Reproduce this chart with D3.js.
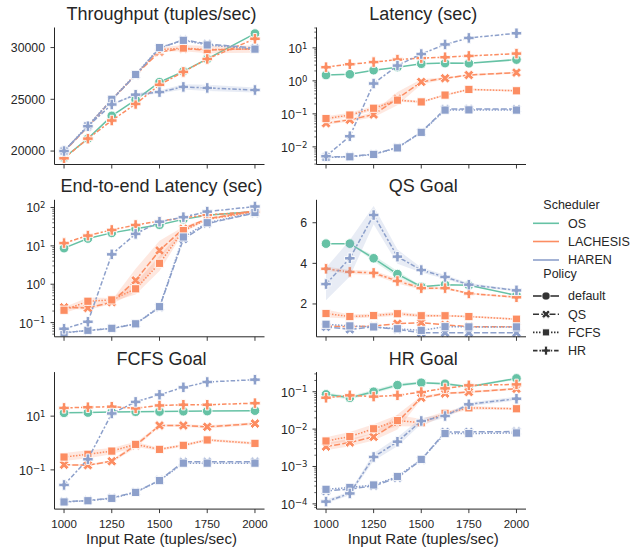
<!DOCTYPE html>
<html><head><meta charset="utf-8">
<script src="https://cdn.jsdelivr.net/npm/d3@7"></script>
<style>
body{margin:0;background:#fff}
text{font-family:"Liberation Sans",Arial,sans-serif;fill:#262626}
</style>
</head><body>
<svg id="c" width="644" height="552"></svg>
<script>
// ---------- data ----------
const inputRates = [1000,1125,1250,1375,1500,1625,1750,2000];
const xTickValues = [1000,1250,1500,1750,2000];
const schedulers = ["OS","LACHESIS","HAREN"];
const policies = ["default","QS","FCFS","HR"];
const panelTitles = ["Throughput (tuples/sec)","Latency (sec)","End-to-end Latency (sec)","QS Goal","FCFS Goal","HR Goal"];
const xAxisLabel = "Input Rate (tuples/sec)";

// Throughput
const thrOSDefault   = [19350,21200,23400,24950,26650,27700,28900,31350];
const thrLachQS      = [19950,22350,24950,27350,29600,29900,29750,29900];
const thrLachFCFS    = [20000,22400,25000,27400,29800,29950,29800,29850];
const thrLachHR      = [19300,21200,22950,24550,26400,27650,28900,30850];
const thrHarenQS     = [20000,22400,24950,27350,29950,30750,30350,29950];
const thrHarenFCFS   = [20000,22450,25000,27400,30000,30700,30250,29850];
const thrHarenHR     = [20000,22400,24500,25450,25700,26200,26100,25900];
const thrLachFCFSBand = [0,0,0,0,200,300,350,350];
const thrHarenHRBand  = [0,0,0,150,150,250,300,250];
const thrTicks = [20000,25000,30000];

// Latency
const latOSDefault   = [1.5,1.58,2.1,2.6,3.3,3.45,3.4,4.4];
const latLachQS      = [0.052,0.066,0.095,0.29,0.93,1.2,1.5,1.78];
const latLachFCFS    = [0.072,0.092,0.148,0.26,0.23,0.37,0.55,0.5];
const latLachHR      = [2.6,3.2,3.7,4.4,4.9,5.2,5.7,6.7];
const latHarenQS     = [0.0049,0.0051,0.006,0.0095,0.028,0.14,0.14,0.14];
const latHarenFCFS   = [0.0048,0.005,0.0059,0.0093,0.0275,0.13,0.132,0.13];
const latHarenHR     = [0.0052,0.021,0.83,2.9,6.5,12.7,20,27.7];
const latLachQSBand   = [0.05,0.05,0.08,0.2,0.08,0.03,0.03,0.03];
const latLachFCFSBand = [0.07,0.07,0.07,0.05,0.03,0.03,0.03,0.03];
const latTicks = [-2,-1,0,1];

// End-to-end latency
const e2eOSDefault   = [8.7,15.5,21.8,27.8,35.5,49,63,78];
const e2eLachQS      = [0.25,0.24,0.34,1.26,7.6,28,51,82];
const e2eLachFCFS    = [0.21,0.36,0.39,0.76,3.5,25,49,77];
const e2eLachHR      = [11.8,18.5,26,35,44,54,64,78];
const e2eHarenQS     = [0.055,0.062,0.07,0.092,0.25,15,38,72];
const e2eHarenFCFS   = [0.054,0.063,0.071,0.093,0.26,17,40,74];
const e2eHarenHR     = [0.069,0.105,6.0,20.5,42.6,56,78,106];
const e2eLachQSBand   = [0.03,0.05,0.05,0.3,0.25,0.05,0.02,0.02];
const e2eLachFCFSBand = [0.08,0.1,0.05,0.15,0.2,0.05,0.02,0.02];
const e2eTicks = [-1,0,1,2];

// QS goal
const qsOSDefault    = [4.97,4.97,4.25,3.47,2.85,2.95,2.92,2.42];
const qsLachQS       = [0.92,0.87,0.92,1.03,1.08,0.97,0.88,0.87];
const qsLachFCFS     = [1.53,1.38,1.43,1.52,1.42,1.42,1.38,1.25];
const qsLachHR       = [3.73,3.58,3.53,3.13,2.78,2.78,2.52,2.33];
const qsHarenQS      = [0.87,0.75,0.87,0.75,0.58,0.58,0.58,0.58];
const qsHarenFCFS    = [1.0,0.92,0.87,0.78,0.7,0.88,0.87,0.87];
const qsHarenHR      = [2.98,4.25,6.38,4.33,3.67,3.33,2.95,2.67];
const qsOSBand        = [0,0,0.15,0.15,0.05,0,0,0];
const qsLachFCFSBand  = [0.2,0.1,0.1,0.1,0.08,0.05,0.05,0.05];
const qsLachHRBand    = [0.1,0.1,0.1,0.12,0.08,0.05,0.05,0.05];
const qsHarenHRBand   = [0.8,0.9,0.45,0.35,0.12,0.1,0.08,0.05];
const qsTicks = [2,4,6];

// FCFS goal
const fcfsOSDefault  = [13.3,13.6,14.2,14.6,14.8,15.2,15.4,16];
const fcfsLachQS     = [0.155,0.15,0.21,0.82,4.5,4.5,4.0,5.3];
const fcfsLachFCFS   = [0.3,0.38,0.5,0.89,0.58,0.82,1.3,0.97];
const fcfsLachHR     = [20.3,21.5,22.5,19.5,25,26.5,26.5,30.5];
const fcfsHarenQS    = [0.0065,0.0072,0.009,0.015,0.041,0.2,0.2,0.2];
const fcfsHarenFCFS  = [0.0064,0.0071,0.0087,0.0145,0.04,0.178,0.178,0.178];
const fcfsHarenHR    = [0.0275,0.25,12.6,34,63,118,187,228];
const fcfsLachFCFSBand = [0.15,0.15,0.12,0.1,0.05,0.05,0.05,0.05];
const fcfsLachQSBand   = [0.03,0.03,0.05,0.1,0.05,0.05,0.06,0.05];
const fcfsTicks = [-1,1];

// HR goal
const hrOSDefault    = [0.085,0.069,0.1,0.15,0.174,0.163,0.136,0.227];
const hrLachQS       = [0.0034,0.0044,0.0062,0.0155,0.069,0.09,0.098,0.12];
const hrLachFCFS     = [0.0048,0.0063,0.0102,0.0169,0.0148,0.0264,0.037,0.035];
const hrLachHR       = [0.069,0.08,0.074,0.08,0.098,0.123,0.148,0.157];
const hrHarenQS      = [0.00022,0.00025,0.0003,0.0005,0.0015,0.0084,0.0084,0.0086];
const hrHarenFCFS    = [0.000245,0.000275,0.00032,0.00054,0.00155,0.0076,0.0076,0.0079];
const hrHarenHR      = [0.000115,0.00019,0.0018,0.0046,0.0165,0.0224,0.046,0.065];
const hrOSBand        = [0.05,0.05,0.05,0.05,0.03,0.03,0.03,0.03];
const hrLachQSBand    = [0.1,0.1,0.1,0.2,0.05,0.03,0.03,0.03];
const hrLachFCFSBand  = [0.1,0.12,0.12,0.15,0.1,0.05,0.05,0.03];
const hrHarenHRBand   = [0.05,0.05,0.1,0.12,0.08,0.05,0.05,0.05];
const hrTicks = [-4,-3,-2,-1];

// ---------- config ----------
const colors = {OS:"#66c2a5", LACHESIS:"#fc8d62", HAREN:"#8da0cb"};
const dashes = {default:null, QS:"6,2.25", FCFS:"1.5,1.5", HR:"4.5,1.9,2.25,1.9"};
const seriesOrder = [["OS","default"],["LACHESIS","QS"],["LACHESIS","FCFS"],["LACHESIS","HR"],["HAREN","QS"],["HAREN","FCFS"],["HAREN","HR"]];

const panels = [
  {log:false, ylim:[18700,31940], ticks:thrTicks, minor:false,
   vals:[thrOSDefault,thrLachQS,thrLachFCFS,thrLachHR,thrHarenQS,thrHarenFCFS,thrHarenHR],
   bands:[null,null,thrLachFCFSBand,null,null,null,thrHarenHRBand]},
  {log:true, ylim:[-2.535,1.617], ticks:latTicks, minor:true,
   vals:[latOSDefault,latLachQS,latLachFCFS,latLachHR,latHarenQS,latHarenFCFS,latHarenHR],
   bands:[null,latLachQSBand,latLachFCFSBand,null,null,null,null]},
  {log:true, ylim:[-1.37,2.2], ticks:e2eTicks, minor:true,
   vals:[e2eOSDefault,e2eLachQS,e2eLachFCFS,e2eLachHR,e2eHarenQS,e2eHarenFCFS,e2eHarenHR],
   bands:[null,e2eLachQSBand,e2eLachFCFSBand,null,null,null,null]},
  {log:false, ylim:[0.383,7.13], ticks:qsTicks, minor:false,
   vals:[qsOSDefault,qsLachQS,qsLachFCFS,qsLachHR,qsHarenQS,qsHarenFCFS,qsHarenHR],
   bands:[qsOSBand,null,qsLachFCFSBand,qsLachHRBand,null,null,qsHarenHRBand]},
  {log:true, ylim:[-2.46,2.64], ticks:fcfsTicks, minor:false,
   vals:[fcfsOSDefault,fcfsLachQS,fcfsLachFCFS,fcfsLachHR,fcfsHarenQS,fcfsHarenFCFS,fcfsHarenHR],
   bands:[null,fcfsLachQSBand,fcfsLachFCFSBand,null,null,null,null]},
  {log:true, ylim:[-4.14,-0.475], ticks:hrTicks, minor:true,
   vals:[hrOSDefault,hrLachQS,hrLachFCFS,hrLachHR,hrHarenQS,hrHarenFCFS,hrHarenHR],
   bands:[hrOSBand,hrLachQSBand,hrLachFCFSBand,null,null,null,hrHarenHRBand]}
];

const colX = [[54.5,264.5],[316.5,526]];
const rowTop = [27.5,199.8,372.1];
const rowH = 137;
const ink = "#262626";

const svg = d3.select("#c");

function markerPath(policy, big){
  const k = big ? 1 : 0.85;
  if(policy==="default") return {d:d3.symbol(d3.symbolCircle, Math.PI*Math.pow(4.8*k,2))(), rot:0};
  if(policy==="FCFS") return {d:d3.symbol(d3.symbolSquare, Math.pow(8.2*k,2))(), rot:0};
  if(policy==="HR") return {d:d3.symbol(d3.symbolCross, 0.556*Math.pow(10.5*k,2))(), rot:0};
  return {d:d3.symbol(d3.symbolCross, 0.556*Math.pow(10.5*k,2))(), rot:45};
}

function superLabel(sel, exp){
  sel.append("tspan").text("10");
  sel.append("tspan").attr("dy","-0.5em").attr("font-size","8.5px")
     .attr("font-family","'DejaVu Sans',sans-serif")
     .text(exp<0 ? "\u2212"+Math.abs(exp) : String(exp));
}

panels.forEach((p,i)=>{
  const col = i%2, row = Math.floor(i/2);
  const [x0,x1] = colX[col];
  const y0 = rowTop[row], y1 = y0+rowH;
  const x = d3.scaleLinear().domain([950,2050]).range([x0,x1]);
  const y = p.log ? d3.scaleLog().domain([Math.pow(10,p.ylim[0]),Math.pow(10,p.ylim[1])]).range([y1,y0])
                  : d3.scaleLinear().domain(p.ylim).range([y1,y0]);
  const g = svg.append("g");
  const clipId = "clip"+i;
  g.append("clipPath").attr("id",clipId).append("rect").attr("x",x0).attr("y",y0-6).attr("width",x1-x0+6).attr("height",rowH+6);
  const plot = g.append("g");

  seriesOrder.forEach(([sch,pol],si)=>{
    const vals = p.vals[si];
    const band = p.bands[si];
    const color = colors[sch];
    const pts = inputRates.map((r,j)=>({x:r, v:vals[j], b: band? band[j]:0}));
    if(band){
      const area = d3.area().x(d=>x(d.x))
        .y0(d=> p.log ? y(d.v*Math.pow(10,-d.b)) : y(d.v-d.b))
        .y1(d=> p.log ? y(d.v*Math.pow(10,d.b)) : y(d.v+d.b));
      plot.append("path").attr("d",area(pts)).attr("fill",color).attr("fill-opacity",0.2).attr("stroke","none");
    }
    const line = d3.line().x(d=>x(d.x)).y(d=>y(d.v));
    plot.append("path").attr("d",line(pts)).attr("fill","none").attr("stroke",color)
      .attr("stroke-width",1.5).attr("stroke-dasharray",dashes[pol]);
    const m = markerPath(pol,true);
    plot.selectAll(null).data(pts).enter().append("path")
      .attr("d",m.d)
      .attr("transform",d=>`translate(${x(d.x)},${y(d.v)}) rotate(${m.rot})`)
      .attr("fill",color).attr("stroke","#fff").attr("stroke-width",0.9);
  });

  // spines
  g.append("line").attr("x1",x0).attr("x2",x0).attr("y1",y0).attr("y2",y1).attr("stroke",ink).attr("stroke-width",1);
  g.append("line").attr("x1",x0).attr("x2",x1).attr("y1",y1).attr("y2",y1).attr("stroke",ink).attr("stroke-width",1);

  // x ticks
  xTickValues.forEach(t=>{
    g.append("line").attr("x1",x(t)).attr("x2",x(t)).attr("y1",y1).attr("y2",y1+4).attr("stroke",ink).attr("stroke-width",0.9);
    if(row===2){
      g.append("text").attr("x",x(t)).attr("y",y1+18.5).attr("text-anchor","middle").attr("font-size","11.5px").text(t);
    }
  });
  if(row===2){
    g.append("text").attr("x",(x0+x1)/2+2).attr("y",543.5).attr("text-anchor","middle").attr("font-size","15px").text(xAxisLabel);
  }

  // y ticks
  if(p.log){
    if(p.minor){
      for(let d=Math.floor(p.ylim[0]); d<=Math.ceil(p.ylim[1]); d++){
        for(let k=2;k<=9;k++){
          const lv = d+Math.log10(k);
          if(lv>p.ylim[0] && lv<p.ylim[1]){
            const yy = y(Math.pow(10,lv));
            g.append("line").attr("x1",x0-2.2).attr("x2",x0).attr("y1",yy).attr("y2",yy).attr("stroke",ink).attr("stroke-width",0.7);
          }
        }
      }
    }
    p.ticks.forEach(e=>{
      const yy = y(Math.pow(10,e));
      g.append("line").attr("x1",x0-4).attr("x2",x0).attr("y1",yy).attr("y2",yy).attr("stroke",ink).attr("stroke-width",0.9);
      const t = g.append("text").attr("x",x0-9).attr("y",yy+5).attr("text-anchor","end").attr("font-size","12.5px");
      superLabel(t,e);
    });
  } else {
    p.ticks.forEach(v=>{
      const yy = y(v);
      g.append("line").attr("x1",x0-4).attr("x2",x0).attr("y1",yy).attr("y2",yy).attr("stroke",ink).attr("stroke-width",0.9);
      g.append("text").attr("x",x0-9.5).attr("y",yy+4.3).attr("text-anchor","end").attr("font-size","12.3px").text(v);
    });
  }

  // title
  g.append("text").attr("x",(x0+x1)/2+2).attr("y",y0-7.5).attr("text-anchor","middle").attr("font-size","18px").text(panelTitles[i]);
});

// ---------- legend ----------
const lg = svg.append("g");
const lx0 = 533, lx1 = 559, ltx = 568, lty = 543.3;
lg.append("text").attr("x",lty).attr("y",209.3).attr("font-size","12.5px").text("Scheduler");
const schY = [223.3,241.5,260];
schedulers.forEach((s,i)=>{
  lg.append("line").attr("x1",lx0).attr("x2",lx1).attr("y1",schY[i]).attr("y2",schY[i]).attr("stroke",colors[s]).attr("stroke-width",1.6);
  lg.append("text").attr("x",ltx).attr("y",schY[i]+4.4).attr("font-size","12.5px").text(s);
});
lg.append("text").attr("x",lty).attr("y",278).attr("font-size","12.5px").text("Policy");
const polY = [296,314.2,332.4,350.6];
policies.forEach((pol,i)=>{
  lg.append("line").attr("x1",lx0).attr("x2",lx1).attr("y1",polY[i]).attr("y2",polY[i]).attr("stroke","#333").attr("stroke-width",1.6).attr("stroke-dasharray",dashes[pol]);
  const m = markerPath(pol,false);
  lg.append("path").attr("d",m.d).attr("transform",`translate(${(lx0+lx1)/2},${polY[i]}) rotate(${m.rot})`).attr("fill","#333").attr("stroke","#fff").attr("stroke-width",0.8);
  lg.append("text").attr("x",ltx).attr("y",polY[i]+4.4).attr("font-size","12.5px").text(pol);
});
</script>
</body></html>
